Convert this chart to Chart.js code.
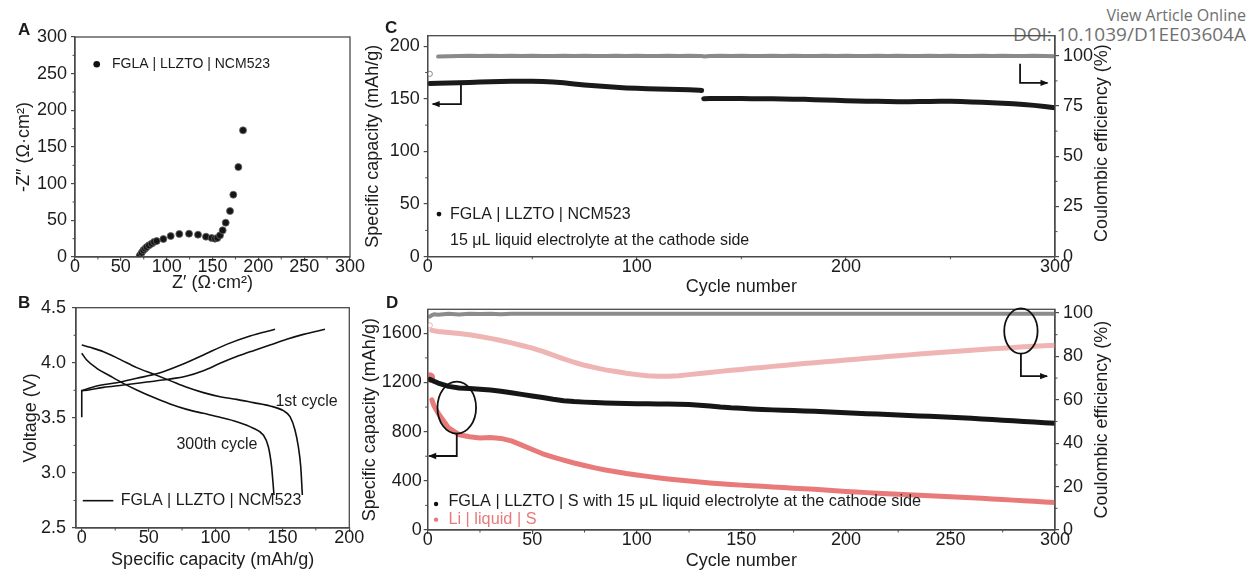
<!DOCTYPE html>
<html><head><meta charset="utf-8">
<script src="https://cdn.jsdelivr.net/npm/chart.js@4.4.1/dist/chart.umd.min.js"></script>
<style>
html,body{margin:0;padding:0;background:#fff;}
body{width:1246px;height:572px;position:relative;overflow:hidden;}
canvas{position:absolute;}
.hdr{position:absolute;right:0px;font-family:"Open Sans",sans-serif;color:#707070;line-height:1;white-space:nowrap;}
</style></head><body>
<div class="hdr" style="top:7px;font-size:16px">View Article Online</div>
<div class="hdr" style="top:25px;font-size:19px">DOI: 10.1039/D1EE03604A</div>
<canvas id="cA" width="380" height="300" style="left:0;top:0"></canvas>
<canvas id="cB" width="380" height="282" style="left:0;top:290px"></canvas>
<canvas id="cC" width="891" height="300" style="left:355px;top:0"></canvas>
<canvas id="cD" width="891" height="282" style="left:355px;top:290px"></canvas>
<script>
// ---------- Panel A: impedance ----------
const aZre = [70.2,70.9,72.7,74.5,76.4,78.2,80.7,83.6,86.2,89.1,96.4,104.4,113.8,124.4,134.2,142.9,149.1,152.7,155.3,158.2,161.1,164.4,169.1,172.7,178.2,183.3];
const aZim = [0,2.3,5.9,9.1,11.4,13.6,15.9,18.2,20.5,21.8,24.5,28.6,31.4,31.8,30.5,27.7,25.9,25.0,25.9,29.5,36.4,46.8,62.7,85.0,122.7,172.7];
const aTicks = [0,50,100,150,200,250,300];
const aMinor = [25,75,125,175,225,275];

// ---------- Panel B: voltage profiles ----------
const b1cCap = [0,0,16.2,31.1,48.6,64.7,78.5,90.9,103.4,115.8,128.3,140.7,153.2,165.7,181.8];
const b1cV   = [3.505,3.747,3.777,3.798,3.825,3.850,3.880,3.928,3.995,4.056,4.110,4.161,4.213,4.258,4.304];
const b1dCap = [0,6.2,16.2,28.6,41.1,53.5,66.0,78.5,90.9,103.4,115.8,128.3,140.7,150.7,155.7,159.4,161.9,163.7,164.9];
const b1dV   = [4.161,4.140,4.101,4.031,3.956,3.898,3.838,3.777,3.729,3.692,3.668,3.638,3.608,3.565,3.511,3.390,3.238,3.057,2.800];
const b300cCap = [0,11.2,26.1,41.1,57.3,73.5,90.9,108.3,125.8,144.5];
const b300cV   = [3.747,3.789,3.819,3.859,3.904,3.977,4.071,4.167,4.243,4.304];
const b300dCap = [0,3.7,11.2,21.2,31.1,41.1,53.5,66.0,78.5,90.9,103.4,115.8,128.3,135.7,139.5,141.9,143.7];
const b300dV   = [4.086,4.025,3.950,3.880,3.813,3.753,3.686,3.626,3.577,3.541,3.505,3.465,3.405,3.344,3.238,3.057,2.800];
const bTicksX = [0,50,100,150,200];
const bMinorX = [25,75,125,175];
const bTicksY = [2.5,3.0,3.5,4.0,4.5];
const bMinorY = [2.75,3.25,3.75,4.25];

// ---------- Panel C: FGLA|LLZTO|NCM523 cycling ----------
const cCycle = [1,5,10,15,20,25,30,35,40,45,50,55,60,65,70,75,80,85,90,95,100,105,110,115,120,125,130,131,132,135,140,145,150,155,160,165,170,175,180,185,190,195,200,205,210,215,220,225,230,235,240,245,250,255,260,265,270,275,280,285,290,295,300];
const cCap = [164.5,164.8,165.0,165.3,165.6,165.9,166.2,166.5,166.7,166.8,
 166.7,166.4,166.0,165.2,164.2,163.2,162.4,161.7,161.0,160.4,
 160.0,159.7,159.4,159.1,158.9,158.6,158.2,
 158.0,150.2,
 150.3,150.4,150.4,150.3,150.2,150.1,150.0,149.8,149.7,149.5,
 149.2,148.9,148.6,148.3,148.0,147.8,147.6,147.4,147.3,147.3,
 147.4,147.5,147.6,147.6,147.4,147.1,146.7,146.3,145.8,145.3,
 144.6,143.8,142.8,141.5];
const cCE = [91.0,99.6,99.8,99.9,100.0,99.9,100.0,99.9,100.0,99.9,
 100.0,99.9,99.9,100.0,99.9,100.0,99.9,99.9,100.0,99.9,
 100.0,99.9,99.9,100.0,99.9,100.0,99.9,
 99.9,99.7,
 99.9,100.0,99.9,100.0,99.9,99.9,100.0,99.9,100.0,99.9,
 99.9,100.0,99.9,100.0,99.9,99.9,100.0,99.9,100.0,99.9,
 99.9,100.0,99.9,100.0,99.9,99.9,100.0,99.9,100.0,99.9,
 99.9,100.0,99.9,99.8];
const cTicksX = [0,100,200,300];
const cMinorX = [50,150,250];
const cTicksY = [0,50,100,150,200];
const cMinorY = [25,75,125,175];
const cTicksY2 = [0,25,50,75,100];
const cMinorY2 = [12.5,37.5,62.5,87.5];

// ---------- Panel D: Li-S cycling ----------
const dCycle = [1,2,3,5,10,15,20,25,30,35,40,45,50,55,60,65,70,75,80,85,90,95,100,105,110,115,120,125,130,135,140,145,150,155,160,165,170,175,180,185,190,195,200,205,210,215,220,225,230,235,240,245,250,255,260,265,270,275,280,285,290,295,300];
const dCapFGLA = [1225,1218,1210,1195,1168,1155,1150,1145,1138,1128,
 1116,1103,1090,1077,1063,1052,1045,1040,1036,1033,
 1030,1028,1027,1026,1025,1024,1022,1020,1015,1008,
 1000,994,990,985,981,977,974,971,968,965,
 961,957,954,950,946,943,940,936,932,928,
 925,921,917,913,908,903,898,893,888,883,
 878,873,868];
const dCapLi = [1240,1058,1010,950,830,775,758,748,752,745,
 725,690,655,620,592,568,545,525,505,488,
 474,460,448,436,425,415,406,398,390,383,
 376,370,365,360,355,350,345,340,336,331,
 326,320,314,309,304,299,294,290,286,282,
 278,274,270,266,262,258,253,248,243,238,
 233,228,223];
const dCEFGLA = [98.3,99.0,99.4,99.2,99.6,99.3,99.7,99.5,99.6,99.4,
 99.7,99.6,99.7,99.6,99.7,99.7,99.6,99.7,99.7,99.6,
 99.7,99.7,99.6,99.7,99.7,99.6,99.7,99.7,99.6,99.7,
 99.7,99.6,99.7,99.7,99.6,99.7,99.7,99.6,99.7,99.7,
 99.6,99.7,99.7,99.6,99.7,99.7,99.6,99.7,99.7,99.6,
 99.7,99.7,99.6,99.7,99.7,99.6,99.7,99.7,99.6,99.7,
 99.7,99.6,99.7];
const dCELi = [94.3,92.0,91.8,91.5,91.0,90.5,90.0,89.2,88.3,87.3,
 86.2,85.0,83.8,82.3,80.6,78.9,77.3,75.9,74.8,73.8,
 73.0,72.2,71.6,71.1,70.8,70.8,71.1,71.6,72.1,72.6,
 73.1,73.6,74.0,74.5,74.9,75.4,75.8,76.3,76.7,77.1,
 77.5,77.9,78.3,78.7,79.1,79.5,79.9,80.3,80.7,81.1,
 81.4,81.8,82.1,82.5,82.8,83.2,83.5,83.8,84.1,84.4,
 84.7,84.9,85.1];
const dTicksX = [0,50,100,150,200,250,300];
const dMinorX = [25,75,125,175,225,275];
const dTicksY = [0,400,800,1200,1600];
const dMinorY = [200,600,1000,1400];
const dTicksY2 = [0,20,40,60,80,100];
const dMinorY2 = [10,30,50,70,90];

// ---------- styling helpers ----------
const AXIS = '#4a4a4a', TXT = '#1c1c1c', PINK = '#e87a7a', PINK_L = '#efb4b4';
const FONT = '"Liberation Sans", Arial, Helvetica, sans-serif';
const TICK = 18;

const pairs = (xs, ys) => xs.map((x, i) => ({x: x, y: ys[i]}));
const fixedTicks = vals => s => { s.ticks = vals.map(v => ({value: v})); };
const gridOpt = {display:true, drawOnChartArea:false, drawTicks:true, tickLength:4, color:AXIS, lineWidth:1.2};
const borderOpt = {display:true, color:AXIS, width:1.3};

function xAxis(o){ return {
  type:'linear', position:'bottom', min:o.min, max:o.max,
  afterBuildTicks: fixedTicks(o.ticks),
  afterFit: s => { s.height = o.h; },
  grid: gridOpt, border: borderOpt,
  ticks:{font:{family:FONT,size:TICK,lineHeight:1}, color:TXT, padding:-2.5, maxRotation:0, autoSkip:false, callback:v=>String(v)},
  title:{display:true, text:o.title, color:TXT, font:{family:FONT,size:18,lineHeight:1.2}, padding:{top:0,bottom:o.tp}}
};}
function yAxis(o){ return {
  type:'linear', position:o.pos||'left', min:o.min, max:o.max,
  afterBuildTicks: fixedTicks(o.ticks),
  afterFit: s => { s.width = o.w; },
  grid: gridOpt, border: borderOpt,
  ticks:{font:{family:FONT,size:TICK,lineHeight:1}, color:TXT, padding:o.lp, autoSkip:false, callback:o.fmt||(v=>String(v))},
  title: o.title ? {display:true, text:o.title, color:TXT, font:{family:FONT,size:18,lineHeight:1.2}, padding:{top:o.tp,bottom:0}} : {display:false}
};}
function opts(top, right, scales){ return {
  responsive:false, animation:false, events:[],
  layout:{padding:{left:0, top:top, right:right, bottom:0}},
  plugins:{legend:{display:false}, tooltip:{enabled:false}},
  scales: scales
};}
function frame(ch){ const c=ch.ctx, a=ch.chartArea; c.strokeStyle=AXIS; c.lineWidth=1.3; c.strokeRect(a.left,a.top,a.right-a.left,a.bottom-a.top); }
function minor(ch, id, vals, len){
  const c=ch.ctx, s=ch.scales[id], a=ch.chartArea; c.strokeStyle=AXIS; c.lineWidth=1; c.beginPath();
  vals.forEach(v => { const p=s.getPixelForValue(v);
    if (s.isHorizontal()) { c.moveTo(p,a.bottom); c.lineTo(p,a.bottom+len); }
    else if (s.position==='left') { c.moveTo(a.left,p); c.lineTo(a.left-len,p); }
    else { c.moveTo(a.right,p); c.lineTo(a.right+len,p); } });
  c.stroke();
}
function txt(c, s, x, y, size, color, bold){ c.font=(bold?'bold ':'')+size+'px '+FONT; c.fillStyle=color||TXT; c.textAlign='left'; c.textBaseline='middle'; c.fillText(s,x,y); }
function vtxt(c, s, x, y, size){ c.save(); c.translate(x,y); c.rotate(-Math.PI/2); c.font=size+'px '+FONT; c.fillStyle=TXT; c.textAlign='center'; c.textBaseline='middle'; c.fillText(s,0,0); c.restore(); }
function dot(c, x, y, r, color){ c.beginPath(); c.arc(x,y,r,0,Math.PI*2); c.fillStyle=color; c.fill(); }
function arrowPath(c, pts){ // polyline ending in an arrow head
  c.strokeStyle='#111'; c.fillStyle='#111'; c.lineWidth=1.8; c.beginPath(); c.moveTo(pts[0][0],pts[0][1]);
  for (let i=1;i<pts.length;i++) c.lineTo(pts[i][0],pts[i][1]); c.stroke();
  const [x2,y2]=pts[pts.length-1], [x1,y1]=pts[pts.length-2]; const d=Math.sign(x2-x1);
  c.beginPath(); c.moveTo(x2+d*1,y2); c.lineTo(x2-d*7,y2-3.2); c.lineTo(x2-d*7,y2+3.2); c.closePath(); c.fill();
}
function ellipse(c, x, y, rx, ry){ c.strokeStyle='#111'; c.lineWidth=1.8; c.beginPath(); c.ellipse(x,y,rx,ry,0,0,Math.PI*2); c.stroke(); }
const hideFirstSeg = {borderColor: s => s.p0DataIndex===0 ? 'rgba(0,0,0,0)' : undefined};
function band(data, color, width, axis, extra){ return Object.assign({data:data, showLine:true, borderColor:color, backgroundColor:color, borderWidth:width, pointRadius:0, borderCapStyle:'round', borderJoinStyle:'round', yAxisID:axis||'y'}, extra||{}); }

// ---------- Chart A ----------
new Chart(document.getElementById('cA'), {
  type:'scatter',
  data:{datasets:[{data:pairs(aZre,aZim), pointRadius:3.5, backgroundColor:'#151515', borderColor:'#666', borderWidth:0.8}]},
  options: opts(37, 30, {
    x: xAxis({min:0,max:300,ticks:aTicks,h:43,tp:6,title:'Z\u2032 (\u03A9\u00B7cm\u00B2)'}),
    y: yAxis({min:0,max:300,ticks:aTicks,w:75,lp:4,tp:13,title:'-Z\u2033 (\u03A9\u00B7cm\u00B2)'})
  }),
  plugins:[{id:'decA', afterDraw(ch){ const c=ch.ctx, X=ch.scales.x, Y=ch.scales.y; c.save();
    frame(ch); minor(ch,'x',aMinor,2.5); minor(ch,'y',aMinor,2.5);
    dot(c, X.getPixelForValue(23.7), Y.getPixelForValue(262.8), 3.3, '#111');
    txt(c, 'FGLA | LLZTO | NCM523', X.getPixelForValue(40.4), Y.getPixelForValue(263.2), 14);
    txt(c, 'A', 18, 30, 17, TXT, true);
    c.restore(); }}]
});

// ---------- Chart B ----------
const bLine = (xs, ys) => ({data:pairs(xs,ys), showLine:true, borderColor:'#111', borderWidth:1.6, pointRadius:0, cubicInterpolationMode:'monotone'});
new Chart(document.getElementById('cB'), {
  type:'scatter',
  data:{datasets:[bLine(b1cCap,b1cV), bLine(b1dCap,b1dV), bLine(b300cCap,b300cV), bLine(b300dCap,b300dV)]},
  options: opts(17.7, 30.7, {
    x: xAxis({min:-4.3,max:200,ticks:bTicksX,h:44,tp:1,title:'Specific capacity (mAh/g)'}),
    y: yAxis({min:2.5,max:4.5,ticks:bTicksY,w:76,lp:6,tp:20,title:'Voltage (V)',fmt:v=>v.toFixed(1)})
  }),
  plugins:[{id:'decB', afterDraw(ch){ const c=ch.ctx, X=ch.scales.x, Y=ch.scales.y; c.save();
    frame(ch); minor(ch,'x',bMinorX,2.5); minor(ch,'y',bMinorY,2.5);
    c.strokeStyle='#111'; c.lineWidth=1.6; c.beginPath();
    c.moveTo(X.getPixelForValue(0.75), Y.getPixelForValue(2.748)); c.lineTo(X.getPixelForValue(23.6), Y.getPixelForValue(2.748)); c.stroke();
    txt(c, 'FGLA | LLZTO | NCM523', X.getPixelForValue(29.2), Y.getPixelForValue(2.752), 16);
    txt(c, '1st cycle', X.getPixelForValue(144.8), Y.getPixelForValue(3.647), 16);
    txt(c, '300th cycle', X.getPixelForValue(70.8), Y.getPixelForValue(3.254), 16);
    txt(c, 'B', 18, 13, 17, TXT, true);
    c.restore(); }}]
});

// ---------- Chart C ----------
const cBreak = cCycle.indexOf(132);
new Chart(document.getElementById('cC'), {
  type:'scatter',
  data:{datasets:[
    band(pairs(cCycle.slice(0,cBreak), cCap.slice(0,cBreak)), '#1a1a1a', 5),
    band(pairs(cCycle.slice(cBreak), cCap.slice(cBreak)), '#1a1a1a', 5),
    band(pairs(cCycle, cCE), '#a3a3a3', 4, 'y2', {segment:hideFirstSeg, pointRadius: s => s.dataIndex===0 ? 2.6 : 0, backgroundColor:'#fff', borderColor:'#8a8a8a', pointBorderWidth:1})
  ]},
  options: opts(35.7, 116, {
    x: xAxis({min:0,max:300,ticks:cTicksX,h:43.3,tp:2.5,title:'Cycle number'}),
    y: yAxis({min:0,max:210,ticks:cTicksY,w:72.7,lp:4,tp:7,title:'Specific capacity (mAh/g)'}),
    y2: yAxis({pos:'right',min:0,max:110,ticks:cTicksY2,w:75,lp:4})
  }),
  plugins:[{id:'decC', afterDraw(ch){ const c=ch.ctx, X=ch.scales.x, Y=ch.scales.y, Y2=ch.scales.y2, a=ch.chartArea; c.save();
    frame(ch); minor(ch,'x',cMinorX,2.5); minor(ch,'y',cMinorY,2.5); minor(ch,'y2',cMinorY2,2.5);
    arrowPath(c, [[X.getPixelForValue(15.9), Y.getPixelForValue(164)], [X.getPixelForValue(15.9), Y.getPixelForValue(145)], [X.getPixelForValue(2.4), Y.getPixelForValue(145)]]);
    arrowPath(c, [[X.getPixelForValue(283.3), Y2.getPixelForValue(96.1)], [X.getPixelForValue(283.3), Y2.getPixelForValue(86.5)], [X.getPixelForValue(296.4), Y2.getPixelForValue(86.5)]]);
    dot(c, X.getPixelForValue(5.4), Y.getPixelForValue(40.5), 2.4, '#111');
    txt(c, 'FGLA | LLZTO | NCM523', X.getPixelForValue(10.7), Y.getPixelForValue(39.6), 16);
    txt(c, '15 \u03BCL liquid electrolyte at the cathode side', X.getPixelForValue(10.7), Y.getPixelForValue(15.1), 16);
    vtxt(c, 'Coulombic efficiency (%)', a.right+46.7, (a.top+a.bottom)/2 - 3, 18);
    txt(c, 'C', 30, 28, 17, TXT, true);
    c.restore(); }}]
});

// ---------- Chart D ----------
new Chart(document.getElementById('cD'), {
  type:'scatter',
  data:{datasets:[
    band(pairs(dCycle, dCapFGLA), '#161616', 5),
    band(pairs(dCycle, dCapLi), PINK, 5, 'y', {segment:hideFirstSeg, pointRadius: s => s.dataIndex===0 ? 2.8 : 0}),
    band(pairs(dCycle, dCEFGLA), '#8c8c8c', 4, 'y2'),
    band(pairs(dCycle, dCELi), PINK_L, 5, 'y2', {segment:hideFirstSeg, pointRadius: s => s.dataIndex===0 ? 2.6 : 0, backgroundColor:'#fff', borderColor:PINK_L, pointBorderWidth:1})
  ]},
  options: opts(19.3, 116, {
    x: xAxis({min:0,max:300,ticks:dTicksX,h:42,tp:0,title:'Cycle number'}),
    y: yAxis({min:0,max:1795,ticks:dTicksY,w:72.7,lp:2,tp:4,title:'Specific capacity (mAh/g)'}),
    y2: yAxis({pos:'right',min:0,max:101.7,ticks:dTicksY2,w:75,lp:4})
  }),
  plugins:[{id:'decD', afterDraw(ch){ const c=ch.ctx, X=ch.scales.x, Y=ch.scales.y, Y2=ch.scales.y2, a=ch.chartArea; c.save();
    frame(ch); minor(ch,'x',dMinorX,2.5); minor(ch,'y',dMinorY,2.5); minor(ch,'y2',dMinorY2,2.5);
    const ex=X.getPixelForValue(13.9), ey=Y.getPixelForValue(995);
    ellipse(c, ex, ey, 19.3, 26);
    arrowPath(c, [[ex, ey+26], [ex, Y.getPixelForValue(602)], [X.getPixelForValue(0.7), Y.getPixelForValue(602)]]);
    const rx=X.getPixelForValue(283.7), ry=Y2.getPixelForValue(91.7);
    ellipse(c, rx, ry, 16.7, 22.7);
    arrowPath(c, [[rx, ry+22.7], [rx, Y2.getPixelForValue(70.9)], [X.getPixelForValue(296.2), Y2.getPixelForValue(70.9)]]);
    dot(c, X.getPixelForValue(4.0), Y.getPixelForValue(211), 2.2, '#111');
    txt(c, 'FGLA | LLZTO | S with 15 \u03BCL liquid electrolyte at the cathode side', X.getPixelForValue(9.9), Y.getPixelForValue(230), 16.3);
    dot(c, X.getPixelForValue(4.0), Y.getPixelForValue(84), 2.2, PINK);
    txt(c, 'Li | liquid | S', X.getPixelForValue(9.9), Y.getPixelForValue(87), 16.3, PINK);
    vtxt(c, 'Coulombic efficiency (%)', a.right+46.7, (a.top+a.bottom)/2, 18);
    txt(c, 'D', 31, 13, 17, TXT, true);
    c.restore(); }}]
});
</script>
</body></html>
